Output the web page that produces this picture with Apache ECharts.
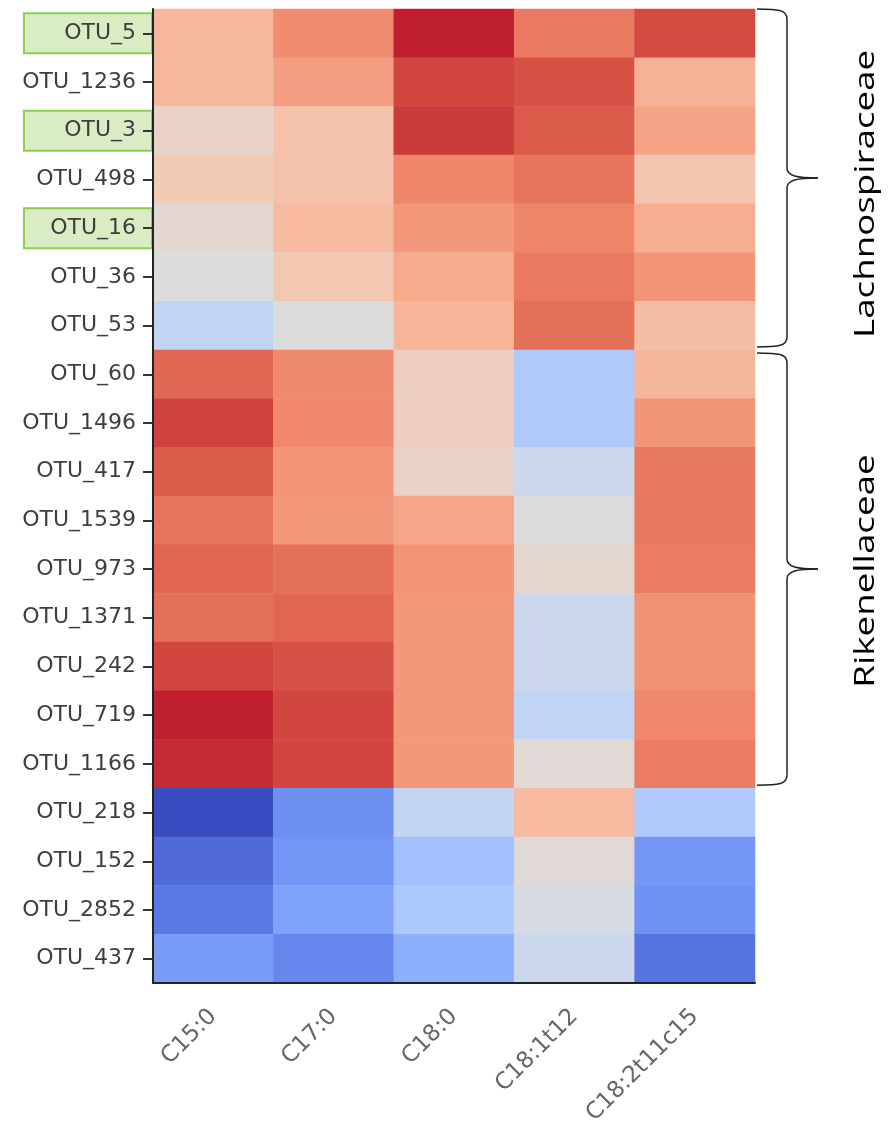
<!DOCTYPE html>
<html>
<head>
<meta charset="utf-8">
<script src="https://cdn.jsdelivr.net/npm/echarts@6/dist/echarts.min.js"></script>
<style>
html,body{margin:0;padding:0;background:#fff;}
#chart{width:889px;height:1121px;}
</style>
</head>
<body>
<div id="chart"></div>
<script>
// ---- data ----
const columns = ['C15:0', 'C17:0', 'C18:0', 'C18:1t12', 'C18:2t11c15'];
const otus = ['OTU_5', 'OTU_1236', 'OTU_3', 'OTU_498', 'OTU_16', 'OTU_36', 'OTU_53',
  'OTU_60', 'OTU_1496', 'OTU_417', 'OTU_1539', 'OTU_973', 'OTU_1371', 'OTU_242', 'OTU_719', 'OTU_1166',
  'OTU_218', 'OTU_152', 'OTU_2852', 'OTU_437'];
const highlighted = ['OTU_5', 'OTU_3', 'OTU_16'];

// correlation values per column, in the order of otus
const valuesC15_0 = [0.32, 0.32, 0.11, 0.20, 0.06, 0.00, -0.19,
  0.71, 0.84, 0.76, 0.66, 0.72, 0.68, 0.83, 0.93, 0.90,
  -1.00, -0.86, -0.79, -0.62];
const valuesC17_0 = [0.56, 0.47, 0.26, 0.26, 0.31, 0.22, -0.01,
  0.57, 0.58, 0.52, 0.50, 0.68, 0.72, 0.80, 0.83, 0.83,
  -0.68, -0.65, -0.58, -0.72];
const valuesC18_0 = [0.93, 0.83, 0.86, 0.59, 0.50, 0.41, 0.34,
  0.15, 0.15, 0.11, 0.43, 0.52, 0.50, 0.50, 0.50, 0.50,
  -0.17, -0.37, -0.31, -0.50];
const valuesC18_1t12 = [0.64, 0.80, 0.76, 0.66, 0.59, 0.64, 0.68,
  -0.30, -0.30, -0.12, -0.01, 0.07, -0.12, -0.12, -0.20, 0.03,
  0.31, 0.03, -0.05, -0.13];
const valuesC18_2t11c15 = [0.82, 0.36, 0.44, 0.23, 0.39, 0.52, 0.29,
  0.33, 0.51, 0.65, 0.65, 0.63, 0.53, 0.53, 0.58, 0.63,
  -0.29, -0.65, -0.67, -0.82];

const families = ['Lachnospiraceae', 'Rikenellaceae'];
const familyFirst = ['OTU_5', 'OTU_60'];
const familyLast = ['OTU_53', 'OTU_1166'];

// ---- build ----
const columnValues = [valuesC15_0, valuesC17_0, valuesC18_0, valuesC18_1t12, valuesC18_2t11c15];
const heatData = [];
columnValues.forEach(function (vals, ci) {
  vals.forEach(function (v, ri) { heatData.push([ci, ri, v]); });
});

const coolwarm = ['#3b4cc0', '#5977e3', '#7b9ff9', '#9ebeff', '#c0d4f5', '#dddcdc',
  '#f2cbb7', '#f7ac8e', '#ee8468', '#d65244', '#b40426'];

const labelFont = 'DejaVu Sans';
const richBase = {
  fontSize: 22, fontFamily: labelFont, color: '#3e3e3e', lineHeight: 24,
  padding: [8, 15, 8, 4], width: 107, align: 'right'
};

const chart = echarts.init(document.getElementById('chart'), null, { renderer: 'canvas' });
chart.setOption({
  animation: false,
  backgroundColor: '#fff',
  grid: { left: 153, right: 134, top: 9, bottom: 138, containLabel: false, outerBoundsMode: 'none' },
  xAxis: {
    type: 'category', data: columns, z: 5,
    splitLine: { show: false },
    axisLine: { lineStyle: { color: '#222', width: 2 } },
    axisTick: { alignWithLabel: true, length: 9, lineStyle: { color: '#333', width: 2 } },
    axisLabel: { rotate: 45, interval: 0, fontSize: 23, fontFamily: labelFont, color: '#666', margin: 30 }
  },
  yAxis: [{
    type: 'category', data: otus, inverse: true,
    axisLine: { show: false }, axisTick: { show: false }, splitLine: { show: false },
    axisLabel: {
      interval: 0, margin: 2,
      formatter: function (v) { return highlighted.indexOf(v) >= 0 ? '{hl|' + v + '}' : '{pl|' + v + '}'; },
      rich: {
        hl: Object.assign({}, richBase, { backgroundColor: '#d9ecc4', borderColor: '#8ccf50', borderWidth: 2 }),
        pl: Object.assign({}, richBase)
      }
    }
  }, {
    type: 'category', data: otus, inverse: true, position: 'left', z: 5,
    splitLine: { show: false },
    axisLine: { show: true, lineStyle: { color: '#222', width: 2 } },
    axisTick: { show: true, alignWithLabel: true, length: 10, lineStyle: { color: '#333', width: 2 } },
    axisLabel: { show: false }
  }],
  visualMap: {
    show: false, type: 'continuous', min: -1, max: 1, dimension: 2,
    inRange: { color: coolwarm }
  },
  series: [{
    type: 'heatmap', xAxisIndex: 0, yAxisIndex: 0, data: heatData,
    itemStyle: { borderWidth: 0 },
    emphasis: { disabled: true }
  }]
});

// ---- family braces and labels ----
function drawAnnotations() {
  const yA = chart.convertToPixel({ yAxisIndex: 0 }, otus[0]);
  const yB = chart.convertToPixel({ yAxisIndex: 0 }, otus[1]);
  const band = yB - yA;
  const xLast = chart.convertToPixel({ xAxisIndex: 0 }, columns[columns.length - 1]);
  const xPrev = chart.convertToPixel({ xAxisIndex: 0 }, columns[columns.length - 2]);
  const xr = xLast + (xLast - xPrev) / 2;
  const x0 = xr + 2, x1 = xr + 32, x2 = xr + 63;
  const textOffsets = [16, 2];
  const lineStyle = { fill: null, stroke: '#222', lineWidth: 1.5 };
  const elements = [];
  function curve(ax, ay, c1x, c1y, c2x, c2y, bx, by) {
    elements.push({
      type: 'bezierCurve', silent: true,
      shape: { x1: ax, y1: ay, cpx1: c1x, cpy1: c1y, cpx2: c2x, cpy2: c2y, x2: bx, y2: by },
      style: lineStyle
    });
  }
  function seg(ax, ay, bx, by) {
    elements.push({
      type: 'line', silent: true,
      shape: { x1: ax, y1: ay, x2: bx, y2: by },
      style: lineStyle
    });
  }
  families.forEach(function (name, i) {
    const yTop = chart.convertToPixel({ yAxisIndex: 0 }, familyFirst[i]) - band / 2 + (i === 0 ? 0 : 3);
    const yBot = chart.convertToPixel({ yAxisIndex: 0 }, familyLast[i]) + band / 2 - 3;
    const ym = (yTop + yBot) / 2;
    curve(x0, yTop, x1 - 8, yTop, x1, yTop + 1, x1, yTop + 10);
    seg(x1, yTop + 10, x1, ym - 10);
    curve(x1, ym - 10, x1, ym - 2, x1 + 10, ym, x2, ym);
    curve(x2, ym, x1 + 10, ym, x1, ym + 2, x1, ym + 10);
    seg(x1, ym + 10, x1, yBot - 10);
    curve(x1, yBot - 10, x1, yBot - 1, x1 - 8, yBot, x0, yBot);
    elements.push({
      type: 'text', silent: true,
      x: xr + 111, y: ym + textOffsets[i],
      rotation: Math.PI / 2, scaleX: 1.36, scaleY: 1,
      style: {
        text: name, fill: '#000', font: '27px "Open Sans"',
        align: 'center', verticalAlign: 'middle',
        textAlign: 'center', textVerticalAlign: 'middle'
      }
    });
  });
  chart.setOption({ graphic: { elements: elements } });
}
drawAnnotations();
</script>
</body>
</html>
